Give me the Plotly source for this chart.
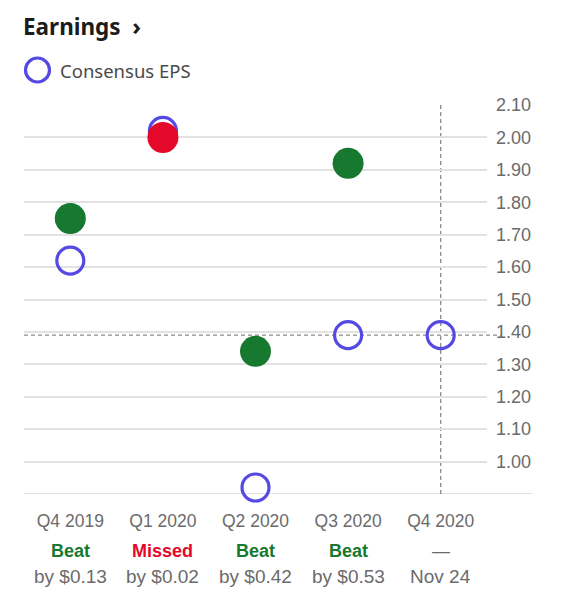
import plotly.graph_objects as go

quarters = ["Q4 2019", "Q1 2020", "Q2 2020", "Q3 2020", "Q4 2020"]
consensus_eps = [1.62, 2.02, 0.92, 1.39, 1.39]
actual_eps = [1.75, 2.00, 1.34, 1.92, None]
result_labels = ["Beat", "Missed", "Beat", "Beat", "—"]
result_details = ["by $0.13", "by $0.02", "by $0.42", "by $0.53", "Nov 24"]
y_ticks = [1.00, 1.10, 1.20, 1.30, 1.40, 1.50, 1.60, 1.70, 1.80, 1.90, 2.00, 2.10]
current_consensus = 1.39

GREEN = "#17782f"
RED = "#e4082b"
BLUE = "#5549e3"
GRAY_TXT = "#6b6b6b"
GRID = "#e2e2e2"

xs = list(range(len(quarters)))
act_x = [x for x, v in zip(xs, actual_eps) if v is not None]
act_y = [v for v in actual_eps if v is not None]
act_c = [GREEN if a >= c else RED for a, c in zip(act_y, consensus_eps)]

fig = go.Figure()
fig.add_trace(go.Scatter(
    x=xs, y=consensus_eps, mode="markers", showlegend=False,
    marker=dict(size=27, color="rgba(255,255,255,0)", line=dict(color=BLUE, width=3.2)),
    cliponaxis=False,
))
fig.add_trace(go.Scatter(
    x=act_x, y=act_y, mode="markers", showlegend=False,
    marker=dict(size=31, color=act_c, line=dict(width=0)),
    cliponaxis=False,
))

shapes = []
shapes.append(dict(type="line", xref="paper", yref="y", x0=0, x1=1.099, y0=0.9, y1=0.9,
                   line=dict(color="#d9d9d9", width=1.5), layer="below"))
shapes.append(dict(type="line", xref="paper", yref="y", x0=0, x1=1.03,
                   y0=current_consensus, y1=current_consensus,
                   line=dict(color="#8a8a8a", width=1.3, dash="4px,3px"), layer="below"))
shapes.append(dict(type="line", xref="x", yref="y", x0=4, x1=4, y0=0.9, y1=2.1,
                   line=dict(color="#8a8a8a", width=1.3, dash="4px,3px"), layer="below"))
shapes.append(dict(type="circle", xref="paper", yref="paper", xsizemode="pixel", ysizemode="pixel",
                   xanchor=0, yanchor=1, x0=1.5, x1=25.5, y0=23, y1=47,
                   line=dict(color=BLUE, width=3.2), fillcolor="rgba(0,0,0,0)"))

annotations = []
annotations.append(dict(text="<b>Earnings</b>  <b><span style='font-size:24px'>›</span></b>",
                        xref="paper", yref="paper", x=0, y=1,
                        xanchor="left", yanchor="top", yshift=97, xshift=-2, showarrow=False,
                        borderpad=0,
                        font=dict(family="Noto Sans", size=22.5, color="#1c1c1c")))
annotations.append(dict(text="Consensus EPS", xref="paper", yref="paper", x=0, y=1,
                        xanchor="left", yanchor="middle", yshift=35, xshift=34, showarrow=False,
                        font=dict(family="Noto Sans", size=18.5, color="#4a4a4a")))
for i, (lab, det) in enumerate(zip(result_labels, result_details)):
    if lab == "Beat":
        col = GREEN
    elif lab == "Missed":
        col = RED
    else:
        col = GRAY_TXT
    annotations.append(dict(text="<b>" + lab + "</b>" if lab != "—" else lab, xref="x", yref="paper",
                            x=i, y=0, yanchor="middle", yshift=-57, showarrow=False,
                            font=dict(family="Liberation Sans", size=18, color=col)))
    annotations.append(dict(text=det, xref="x", yref="paper", x=i, y=0, yanchor="middle",
                            yshift=-82, showarrow=False,
                            font=dict(family="Liberation Sans", size=19, color=GRAY_TXT)))

fig.update_layout(
    width=568, height=596,
    margin=dict(l=16, r=89, t=97, b=110),
    paper_bgcolor="white", plot_bgcolor="white",
    shapes=shapes, annotations=annotations,
    xaxis=dict(range=[-0.5, 4.5], tickmode="array", tickvals=xs, ticktext=quarters,
               showgrid=False, zeroline=False, showline=False, ticks="",
               tickfont=dict(family="Liberation Sans", size=17.5, color=GRAY_TXT),
               ticklabelstandoff=14, fixedrange=True),
    yaxis=dict(range=[0.9, 2.1], side="right", tickmode="array", tickvals=y_ticks,
               ticktext=[f"{v:.2f}" for v in y_ticks], showgrid=True, gridcolor=GRID, gridwidth=1.5,
               zeroline=False, showline=False, ticks="",
               tickfont=dict(family="Liberation Sans", size=18, color=GRAY_TXT),
               ticklabelstandoff=8, fixedrange=True),
)

fig.write_html("out.html")
